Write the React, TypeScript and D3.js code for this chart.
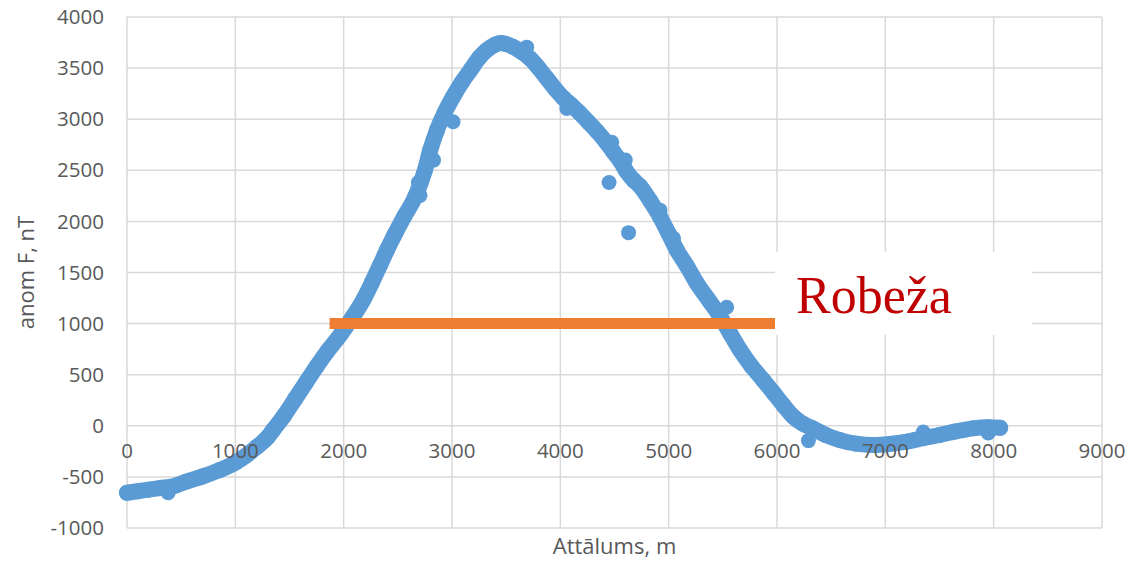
import React from "react";
import * as d3 from "d3";

const distance = [0,100,200,300,450,550,700,850,1000,1100,1200,1300,1350,1450,1550,1650,1750,1850,1970,2080,2180,2260,2335,2400,2470,2560,2660,2750,2800,2860,2930,3010,3090,3170,3250,3320,3400,3450,3500,3560,3640,3720,3800,3875,3950,4030,4100,4180,4260,4340,4420,4490,4560,4610,4680,4740,4830,4920,5000,5075,5170,5260,5370,5475,5570,5660,5760,5870,5970,6060,6150,6240,6330,6450,6580,6730,6890,7040,7200,7350,7500,7650,7810,7950,8060];
const anomaly = [-655,-640,-625,-610,-585,-545,-495,-435,-360,-290,-205,-110,-40,100,260,420,580,730,890,1060,1230,1400,1570,1720,1870,2050,2240,2500,2700,2890,3060,3220,3360,3480,3600,3675,3730,3745,3735,3710,3660,3595,3500,3400,3300,3205,3140,3060,2970,2880,2780,2680,2580,2490,2400,2340,2200,2045,1880,1720,1560,1395,1230,1070,900,740,590,450,320,200,90,20,-25,-90,-140,-175,-188,-178,-155,-120,-90,-55,-25,-15,-20];

const outlierDistance = [380,2690,2705,2830,3010,3690,4060,4450,4475,4600,4630,4920,5045,5535,6290,7350,7950];
const outlierAnomaly = [-655,2380,2255,2600,2975,3705,3105,2380,2775,2600,1890,2110,1835,1160,-145,-60,-70];

const boundaryX = [1870, 5990];
const boundaryY = 1000;

const xTicks = [0,1000,2000,3000,4000,5000,6000,7000,8000,9000];
const yTicks = [-1000,-500,0,500,1000,1500,2000,2500,3000,3500,4000];

const W = 1144, H = 562;
const L = 127, R = 1102, T = 17, B = 528;

export default function App() {
  const x = d3.scaleLinear().domain([0, 9000]).range([L, R]);
  const y = d3.scaleLinear().domain([-1000, 4000]).range([B, T]);
  const pts: [number, number][] = distance.map((d, i) => [d, anomaly[i]]);
  const outs: [number, number][] = outlierDistance.map((d, i) => [d, outlierAnomaly[i]]);
  const line = d3.line<[number, number]>().x(d => x(d[0])).y(d => y(d[1])).curve(d3.curveMonotoneX);
  const font = "'Open Sans', 'DejaVu Sans', sans-serif";
  const grid = "#D9D9D9";
  const blue = "#5B9BD5";
  return (
    <div style={{ position: "fixed", left: 0, top: 0 }}>
      <svg width={W} height={H} style={{ display: "block", background: "#fff" }}>
        {yTicks.map(t => (
          <line key={"gy" + t} x1={L} x2={R} y1={y(t)} y2={y(t)} stroke={grid} strokeWidth={1.5} />
        ))}
        {xTicks.map(t => (
          <line key={"gx" + t} x1={x(t)} x2={x(t)} y1={T} y2={B} stroke={grid} strokeWidth={1.5} />
        ))}
        {yTicks.map(t => (
          <text key={"ty" + t} x={104} y={y(t)} dy="0.35em" textAnchor="end" fontFamily={font} fontSize={20.5} fill="#595959">{t}</text>
        ))}
        <text transform={`translate(34,${(T + B) / 2}) rotate(-90)`} textAnchor="middle" fontFamily={font} fontSize={22} fill="#595959">anom F, nT</text>
        <text x={(L + R) / 2} y={554} textAnchor="middle" fontFamily={font} fontSize={22} fill="#595959">Attālums, m</text>
        <path d={line(pts) || ""} fill="none" stroke={blue} strokeWidth={16} strokeLinecap="round" strokeLinejoin="round" />
        {pts.map((p, i) => (
          <circle key={"p" + i} cx={x(p[0])} cy={y(p[1])} r={8} fill={blue} />
        ))}
        {outs.map((p, i) => (
          <circle key={"o" + i} cx={x(p[0])} cy={y(p[1])} r={7.5} fill={blue} />
        ))}
        {xTicks.map(t => (
          <text key={"tx" + t} x={x(t)} y={y(0) + 32} textAnchor="middle" fontFamily={font} fontSize={20.5} fill="#595959">{t}</text>
        ))}
        <line x1={x(boundaryX[0])} x2={x(boundaryX[1])} y1={y(boundaryY)} y2={y(boundaryY)} stroke="#ED7D31" strokeWidth={11} />
        <rect x={775} y={252} width={257} height={83} fill="#fff" />
        <text x={796} y={313} fontFamily="'Liberation Serif', 'Times New Roman', serif" fontSize={52} fill="#C00000">Robeža</text>
      </svg>
    </div>
  );
}
